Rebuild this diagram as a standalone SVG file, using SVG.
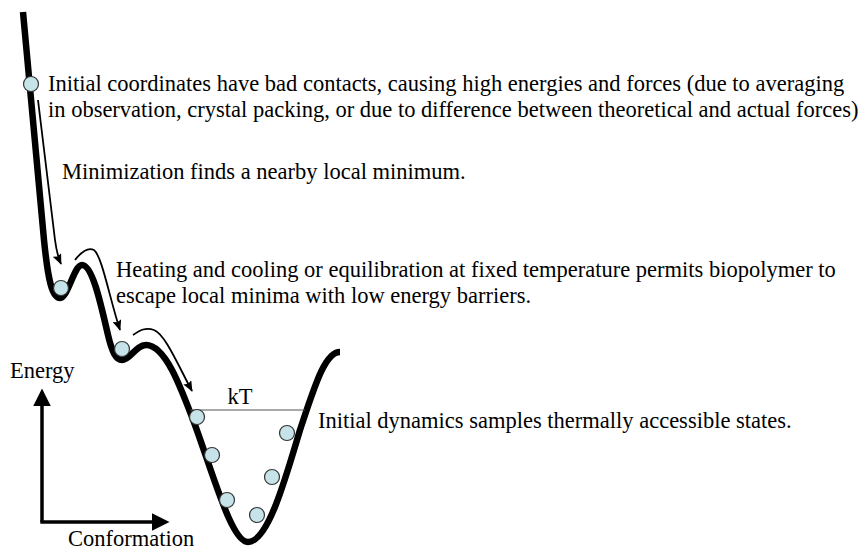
<svg xmlns="http://www.w3.org/2000/svg" width="865" height="552" viewBox="0 0 865 552">
<style>
text{font-family:"Liberation Serif","Times New Roman",serif;font-size:22.5px;fill:#000}
.curve{fill:none;stroke:#000;stroke-width:6.5;stroke-linejoin:round;stroke-linecap:butt}
.thin{fill:none;stroke:#000;stroke-width:1.8}
.ball{fill:#c5e3e8;stroke:#333;stroke-width:1.2}
.axis{fill:none;stroke:#000;stroke-width:3.5}
</style>
<defs>
<marker id="ah" viewBox="0 0 12 10" refX="11" refY="5" markerWidth="12" markerHeight="9" orient="auto" markerUnits="userSpaceOnUse">
<path d="M0,0 L12,5 L0,10 L2,5 z" fill="#000"/>
</marker>
<marker id="axh" viewBox="0 0 10 10" refX="8" refY="5" markerWidth="5" markerHeight="5" orient="auto">
<path d="M0,0 L10,5 L0,10 z" fill="#000"/>
</marker>
</defs>
<g id="landscape">
<path class="curve" d="M23,12 L44,240 C48,280 52,298 60,298 C68,298 74,265 82,265 C92,265 100,300 108,335 C112,352 116,360 122,360 C130,360 136,345 146,345 C165,345 180,385 195,425 C215,480 232,542 248,542 C268,542 285,480 300,430 C315,385 325,352 340,352"/>
</g>
<g id="connectors">
<path class="thin" d="M38,100 L55,240 Q57,255 61,264" marker-end="url(#ah)"/>
<path class="thin" d="M75,260 C82,251 88,247 94,250 C102,256 110,300 120,330" marker-end="url(#ah)"/>
<path class="thin" d="M133,335 C140,330 146,327 154,330 C165,334 178,365 192,391" marker-end="url(#ah)"/>
<line x1="190" y1="410" x2="305" y2="410" stroke="#555" stroke-width="1.2"/>
</g>
<g id="balls">
<circle class="ball" cx="31" cy="84" r="7.5"/>
<circle class="ball" cx="61" cy="288" r="7.5"/>
<circle class="ball" cx="122" cy="349" r="7.5"/>
<circle class="ball" cx="197" cy="417" r="7.5"/>
<circle class="ball" cx="212" cy="455" r="7.5"/>
<circle class="ball" cx="227" cy="500" r="7.5"/>
<circle class="ball" cx="257" cy="515" r="7.5"/>
<circle class="ball" cx="272" cy="477" r="7.5"/>
<circle class="ball" cx="287" cy="433" r="7.5"/>
</g>
<g id="axes">
<path class="axis" d="M42,522 L42,392" marker-end="url(#axh)"/>
<path class="axis" d="M40.3,522 L166,522" marker-end="url(#axh)"/>
</g>
<g id="labels">
<text x="48" y="91">Initial coordinates have bad contacts, causing high energies and forces (due to averaging</text>
<text x="48" y="117">in observation, crystal packing, or due to difference between theoretical and actual forces)</text>
<text x="62" y="179">Minimization finds a nearby local minimum.</text>
<text x="116" y="277">Heating and cooling or equilibration at fixed temperature  permits biopolymer to</text>
<text x="116" y="303">escape local minima with low energy barriers.</text>
<text x="240" y="404" text-anchor="middle">kT</text>
<text x="318" y="428">Initial dynamics samples thermally accessible states.</text>
<text x="10" y="378">Energy</text>
<text x="68" y="546">Conformation</text>
</g>
</svg>
